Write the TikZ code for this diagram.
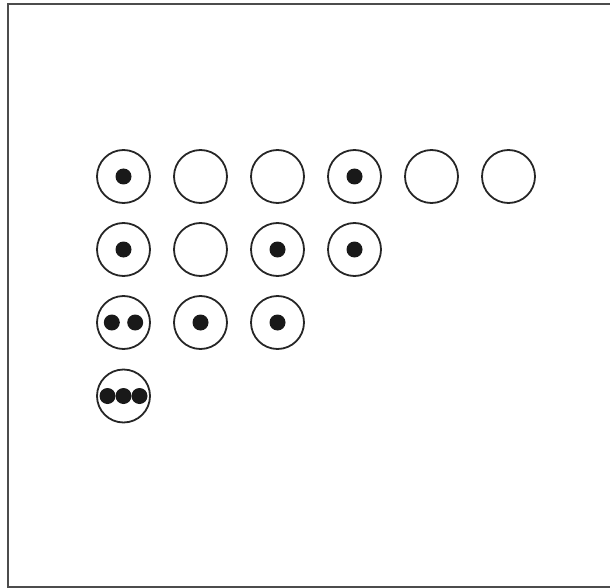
\documentclass[tikz,border=0pt]{standalone}
\begin{document}
\begin{tikzpicture}[x=1pt,y=-1pt,
  ring/.style={circle,draw=black!85,line width=1.8pt,minimum size=53pt,inner sep=0pt},
  dot/.style={circle,fill=black!90,inner sep=0pt,minimum size=16pt},
  framel/.style={draw=black!70,line width=2pt}]
\useasboundingbox (0,0) rectangle (610,588);
\coordinate (fa) at (610,4.5);
\coordinate (fb) at (8,4.5);
\coordinate (fc) at (8,587);
\coordinate (fd) at (610,587);
\draw[framel] (fa) -- (fb) -- (fc) -- (fd);
% row 1
\node[ring] (r1c1) at (123.5,176.5) {};
\node[ring] (r1c2) at (200.5,176.5) {};
\node[ring] (r1c3) at (277.5,176.5) {};
\node[ring] (r1c4) at (354.5,176.5) {};
\node[ring] (r1c5) at (431.5,176.5) {};
\node[ring] (r1c6) at (508.5,176.5) {};
% row 2
\node[ring] (r2c1) at (123.5,249.5) {};
\node[ring] (r2c2) at (200.5,249.5) {};
\node[ring] (r2c3) at (277.5,249.5) {};
\node[ring] (r2c4) at (354.5,249.5) {};
% row 3
\node[ring] (r3c1) at (123.5,322.5) {};
\node[ring] (r3c2) at (200.5,322.5) {};
\node[ring] (r3c3) at (277.5,322.5) {};
% row 4
\node[ring] (r4c1) at (123.5,396) {};
% dots
\node[dot] (d11) at (r1c1) {};
\node[dot] (d14) at (r1c4) {};
\node[dot] (d21) at (r2c1) {};
\node[dot] (d23) at (r2c3) {};
\node[dot] (d24) at (r2c4) {};
\node[dot] (d31a) at ([xshift=-11.7pt]r3c1.center) {};
\node[dot] (d31b) at ([xshift=11.7pt]r3c1.center) {};
\node[dot] (d32) at (r3c2) {};
\node[dot] (d33) at (r3c3) {};
\node[dot] (d41a) at ([xshift=-16pt]r4c1.center) {};
\node[dot] (d41b) at (r4c1) {};
\node[dot] (d41c) at ([xshift=16pt]r4c1.center) {};
\end{tikzpicture}
\end{document}
